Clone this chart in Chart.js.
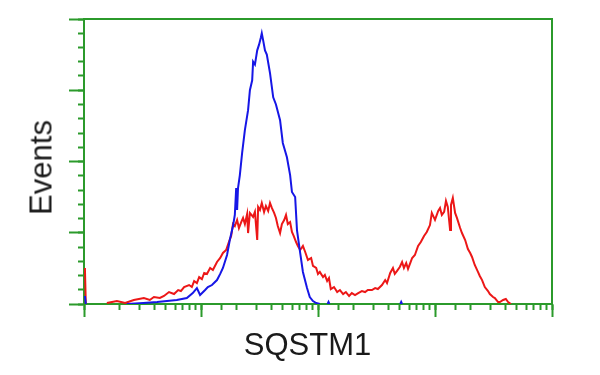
<!DOCTYPE html>
<html>
<head>
<meta charset="utf-8">
<script src="https://cdn.jsdelivr.net/npm/chart.js@4"></script>
<style>
  html, body { margin: 0; padding: 0; background: #fff; }
  #wrap { position: relative; width: 600px; height: 375px; }
  .label {
    position: absolute;
    width: 200px; height: 31px; line-height: 31px;
    text-align: center;
    font-family: "Liberation Sans", Arial, sans-serif;
    font-size: 31px;
    color: #1a1a1a;
  }
  #ylabel { left: -59.5px; top: 152px; transform: rotate(-90deg); }
  #xlabel { left: 207.5px; top: 328.5px; }
</style>
</head>
<body>
<div id="wrap">
  <canvas id="chart" width="600" height="375"></canvas>
  <div class="label" id="ylabel">Events</div>
  <div class="label" id="xlabel">SQSTM1</div>
</div>
<script>
// channels: 1024 channel log scale (256 per decade), null = gap
var blueChannels = [2, 4, 5, 94, 130, 160, 203, 225, 238, 247, 254, 265, 271, 280, 291, 298,
  304, 313, 319, 326, 330, 333, 335, 337, 341, 346, 352, 359, 363, 368, 370, 374, 379, 383,
  387, 389, 392, 396, 400, 407, 414, 420, 429, 435, 444, 451, 455, 462, 466, 473, 479, 488,
  494, 501, 508, 516, 517, 533, 535, 537, 538, 692, 694, 696];
var blueCounts = [5.6, 0, null, 0, 0.7, 1.4, 2.8, 4.2, 7.7, 11.2, 6.3, 9.8, 11.9, 13.3, 16.8, 21.1,
  25.3, 34.4, 44.9, 54.7, 62.5, 81.4, 66.0, 81.4, 90.5, 106, 122, 136, 150, 157, 170, 168, 178, 182,
  187, 190, 185, 178, 175, 162, 145, 140, 129, 113, 103, 90.5, 78.6, 75.1, 51.9, 35.8, 22.5, 11.2,
  4.9, 2.1, 0.7, 0, null, 0, 1.4, 0, null, 0, 1.4, 0];

var redChannels = [2, 4, 5, 50, 72, 90, 109, 131, 144, 153,
  166, 175, 186, 197, 206, 212, 219, 230, 236, 241,
  247, 252, 258, 263, 269, 276, 282, 291, 298, 304,
  311, 317, 322, 326, 330, 335, 339, 344, 348, 352,
  357, 359, 363, 370, 374, 379, 381, 385, 389, 394,
  398, 403, 407, 411, 416, 420, 424, 429, 433, 438,
  442, 446, 451, 455, 459, 464, 468, 473, 479, 484,
  490, 497, 501, 508, 512, 516, 523, 527, 532, 536,
  540, 547, 554, 560, 567, 573, 580, 586, 593, 600,
  608, 615, 621, 630, 637, 643, 652, 659, 663, 670,
  676, 680, 685, 691, 696, 700, 705, 709, 714, 718,
  724, 731, 737, 744, 750, 757, 761, 768, 775, 779,
  783, 788, 792, 796, 801, 803, 807, 812, 816, 823,
  827, 834, 840, 845, 849, 855, 862, 866, 871, 877,
  884, 888, 895, 899, 906, 910, 917, 923, 928, 934];
var redCounts = [25.3, 0, null, 0.7, 2.1, 0.7, 2.8, 4.2, 2.8, 4.9,
  4.2, 5.6, 8.4, 7.0, 9.8, 9.1, 11.9, 13.3, 11.9, 16.1,
  14.7, 18.9, 17.5, 21.8, 21.1, 25.3, 23.9, 29.5, 32.3, 35.8,
  37.9, 43.5, 47.7, 56.1, 54.7, 59.0, 53.3, 57.5, 60.4, 56.1,
  63.2, 49.8, 63.9, 61.1, 64.6, 44.9, 68.1, 66.0, 70.9, 64.6,
  68.8, 65.3, 70.9, 67.4, 63.9, 60.4, 54.7, 49.8, 56.1, 58.9,
  62.5, 56.1, 57.5, 50.5, 47.7, 43.5, 40.7, 37.9, 40.7, 36.5,
  30.9, 32.3, 26.7, 25.3, 21.1, 22.5, 18.9, 20.4, 16.1, 18.2,
  10.5, 11.9, 8.4, 9.8, 7.0, 8.4, 5.6, 7.7, 6.3, 7.7,
  9.1, 8.4, 9.8, 9.8, 11.2, 10.5, 13.3, 16.8, 14.7, 21.8,
  25.3, 21.1, 23.2, 26.0, 29.5, 25.3, 28.8, 24.6, 28.8, 32.3,
  34.4, 40.7, 43.5, 47.7, 50.5, 55.4, 63.9, 59.0, 65.3, 67.4,
  62.5, 64.6, 72.3, 68.1, 51.9, 69.5, 74.4, 63.9, 60.4, 53.3,
  49.8, 44.9, 38.6, 35.8, 33.0, 27.4, 22.5, 19.7, 16.8, 11.9,
  9.1, 7.0, 4.9, 4.2, 1.4, 1.4, 2.8, 3.5, 1.4, 0];

var xDecades = [1, 10, 100, 1000, 10000];
var yMax = 200;
var yMajorStep = 50;
var yMinorStep = 10;

var green = "#2b9a2b";

function toPoints(channels, counts) {
  return channels.map(function (ch, i) {
    return { x: Math.pow(10, ch / 256), y: counts[i] };
  });
}

function axisGrid(len) {
  return { drawOnChartArea: false, tickLength: len, tickWidth: 2, tickColor: green };
}

var chart = new Chart(document.getElementById("chart"), {
  type: "line",
  data: {
    datasets: [
      {
        label: "control",
        data: toPoints(blueChannels, blueCounts),
        borderColor: "#1616e6",
        borderWidth: 2,
        pointRadius: 0,
        tension: 0,
        xAxisID: "x",
        yAxisID: "y",
      },
      {
        label: "SQSTM1",
        data: toPoints(redChannels, redCounts),
        borderColor: "#ec1717",
        borderWidth: 2,
        pointRadius: 0,
        tension: 0,
        xAxisID: "x",
        yAxisID: "y",
      },
    ],
  },
  options: {
    responsive: false,
    animation: false,
    layout: { padding: { left: 69, right: 48, top: 19, bottom: 58 } },
    plugins: { legend: { display: false }, tooltip: { enabled: false } },
    scales: {
      x: {
        type: "logarithmic", position: "bottom", weight: 1,
        min: 1, max: 10000,
        afterBuildTicks: function (s) { s.ticks = xDecades.map(function (v) { return { value: v }; }); },
        ticks: { display: false },
        grid: axisGrid(13),
        border: { color: green, width: 2 },
      },
      xMinor: {
        type: "logarithmic", position: "bottom", weight: 0,
        min: 1, max: 10000,
        ticks: { display: false, autoSkip: false },
        grid: axisGrid(6),
        border: { display: false },
        afterFit: function (s) { s.height = 0; },
      },
      y: {
        type: "linear", position: "left", weight: 1,
        min: 0, max: yMax,
        ticks: { display: false, stepSize: yMajorStep },
        grid: axisGrid(15),
        border: { color: green, width: 2 },
      },
      yMinor: {
        type: "linear", position: "left", weight: 0,
        min: 0, max: yMax,
        ticks: { display: false, stepSize: yMinorStep },
        grid: axisGrid(6),
        border: { display: false },
        afterFit: function (s) { s.width = 0; },
      },
      xTop: {
        type: "linear", position: "top", min: 0, max: 1,
        ticks: { display: false },
        grid: { drawOnChartArea: false, drawTicks: false },
        border: { color: green, width: 2 },
      },
      yRight: {
        type: "linear", position: "right", min: 0, max: 1,
        ticks: { display: false },
        grid: { drawOnChartArea: false, drawTicks: false },
        border: { color: green, width: 2 },
      },
    },
  },
});
</script>
</body>
</html>
